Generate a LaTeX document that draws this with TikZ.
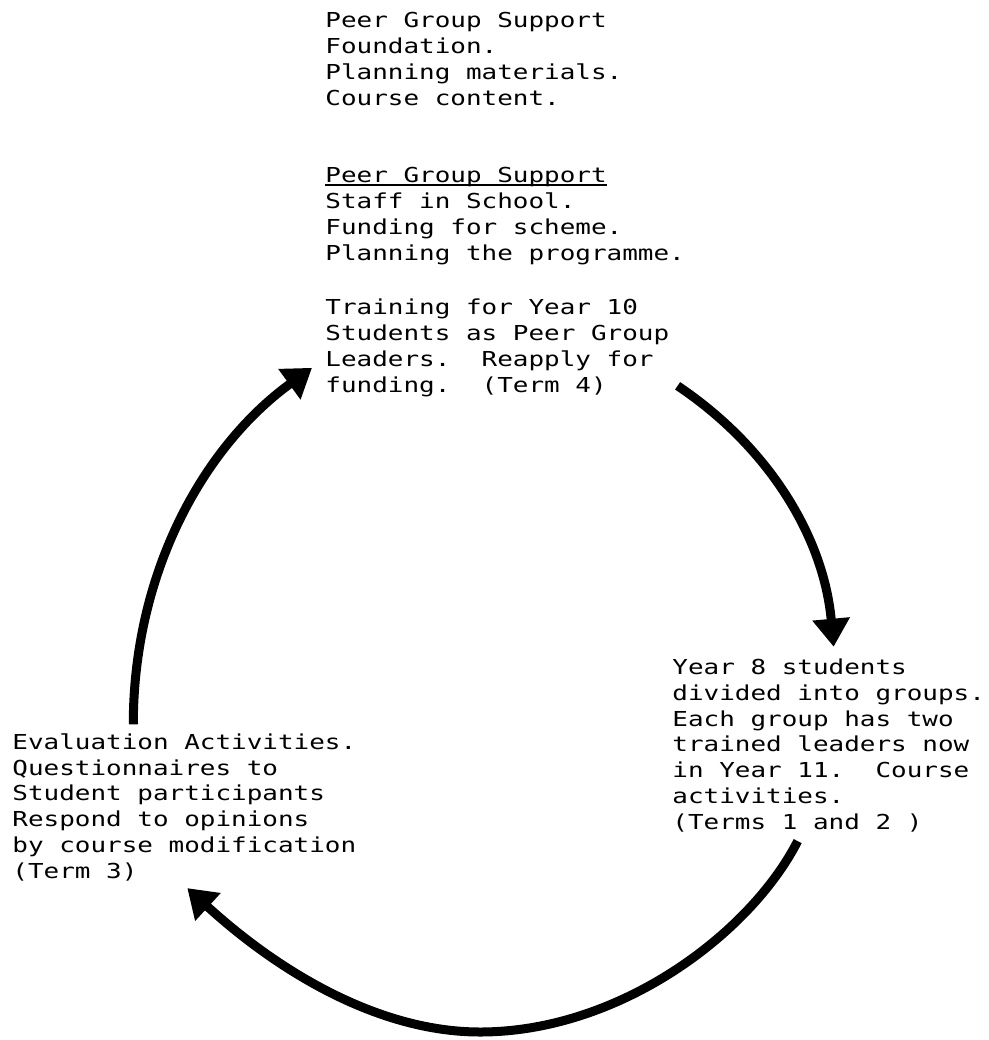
\documentclass[tikz,border=0pt]{standalone}
\usepackage{fontspec}
\usepackage{tikz}
\usetikzlibrary{calc}
\usetikzlibrary{arrows.meta}

\newfontfamily\dotmatrix[FakeStretch=1.26]{DejaVu Sans Mono}
\newcommand{\headline}[1]{\sbox0{#1}\rlap{\rule[-1.3pt]{\wd0}{0.6pt}}#1}

\tikzset{
    stage/.style={anchor=base west, align=left, inner sep=0pt,
        font=\dotmatrix\fontsize{10.3pt}{12.85pt}\selectfont},
    looparrow/.style={line width=4.5pt, -{Triangle[length=14pt,width=18pt]}}
}

\begin{document}
\begin{tikzpicture}[x=0.5pt, y=-0.5pt]
    \useasboundingbox (0,0) rectangle (989,1040);

    % Foundation and staff (placed at the baseline of the last line)
    \node[stage] (foundation) at (325,105) {Peer Group Support\\Foundation.\\Planning materials.\\Course content.};
    \node[stage] (staff) at (325,260) {\headline{Peer Group Support}\\Staff in School.\\Funding for scheme.\\Planning the programme.};

    % Stages of the year
    \node[stage] (training) at (325,392) {Training for Year 10\\Students as Peer Group\\Leaders.\ \ Reapply for\\funding.\ \ (Term 4)};
    \node[stage] (year8) at (672,829) {Year 8 students\\divided into groups.\\Each group has two\\trained leaders now\\in Year 11.\ \ Course\\activities.\\(Terms 1 and 2 )};
    \node[stage] (evaluation) at (12,878) {Evaluation Activities.\\Questionnaires to\\Student participants\\Respond to opinions\\by course modification\\(Term 3)};

    % Cycle arrows
    \coordinate (lowpoint) at (480,1032);
    \draw[looparrow] ($(training.south east)+(8,-11)$) .. controls +(91,61) and +(-10,-110) .. ($(year8.north)+(5,-12)$);
    \draw[looparrow] ($(year8.south)+(-31,9)$) .. controls +(-47,92) and +(140,0) .. (lowpoint)
        .. controls +(-100,0) and +(93,85) .. ($(evaluation.south)+(3,7)$);
    \draw[looparrow] ($(evaluation.north)+(-51,-9)$) .. controls +(0,-150) and +(-110,80) .. ($(training.south west)+(-13,-29)$);
\end{tikzpicture}
\end{document}
